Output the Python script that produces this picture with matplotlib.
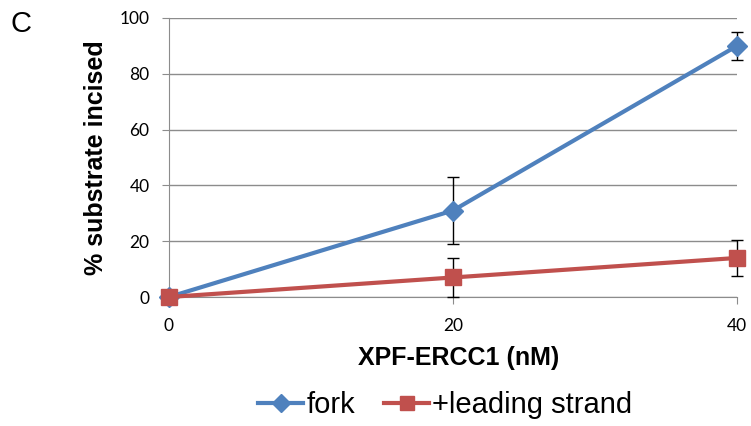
import matplotlib
matplotlib.use("Agg")
import matplotlib.pyplot as plt
from matplotlib.lines import Line2D

conc = [0, 20, 40]
fork = [0, 31, 90]
fork_err = [0, 12, 5]
leading = [0, 7, 14]
leading_err = [0, 7, 6.5]
yticks = [0, 20, 40, 60, 80, 100]

fig = plt.figure(figsize=(7.51, 4.26), dpi=100)
ax = fig.add_axes([169/751, 1-297/426, (737-169)/751, (297-18)/426])

blue = "#4F81BD"
red = "#C0504D"

ax.errorbar(conc, fork, yerr=fork_err, color=blue, lw=3, marker="D", ms=10,
            mfc=blue, mec=blue, ecolor="black", elinewidth=1, capsize=4, capthick=1,
            clip_on=False, zorder=3)
ax.errorbar(conc, leading, yerr=leading_err, color=red, lw=3, marker="s", ms=11,
            mfc=red, mec=red, ecolor="black", elinewidth=1, capsize=4, capthick=1,
            clip_on=False, zorder=4)

ax.set_xlim(0, 40)
ax.set_ylim(0, 100)
ax.set_xticks(conc)
ax.set_yticks(yticks)
ax.yaxis.grid(True, color="#8c8c8c", lw=1)
ax.set_axisbelow(True)
for s in ["top", "right"]:
    ax.spines[s].set_visible(False)
for s in ["left", "bottom"]:
    ax.spines[s].set_color("#8c8c8c")
ax.tick_params(axis="both", colors="#8c8c8c", labelcolor="black", labelsize=12.5,
               length=5, direction="out")
ax.tick_params(axis="x", pad=10)
ax.tick_params(axis="y", pad=9)
for lab in ax.get_xticklabels() + ax.get_yticklabels():
    lab.set_family("Lato")

ax.set_xlabel("XPF-ERCC1 (nM)", fontsize=18, fontweight="bold",
              family="Liberation Sans", labelpad=9)
ax.set_ylabel("% substrate incised", fontsize=18, fontweight="bold",
              family="Liberation Sans", labelpad=8)
ax.xaxis.label.set_x(0.51)

fig.text(10/751, 1-24/426, "C", fontsize=21, family="Liberation Sans",
         va="center", ha="left")

handles = [
    Line2D([], [], color=blue, lw=3, marker="D", ms=9, mfc=blue, mec=blue),
    Line2D([], [], color=red, lw=3, marker="s", ms=10, mfc=red, mec=red),
]
labels = ["fork", "+leading strand"]
fig.legend(handles, labels, loc="center", bbox_to_anchor=(0.593, 1-405/426), ncol=2,
           frameon=False, prop={"family": "Liberation Sans", "size": 21},
           handlelength=1.55, handletextpad=0.1, columnspacing=1.0)

fig.savefig("out.png", dpi=100)
